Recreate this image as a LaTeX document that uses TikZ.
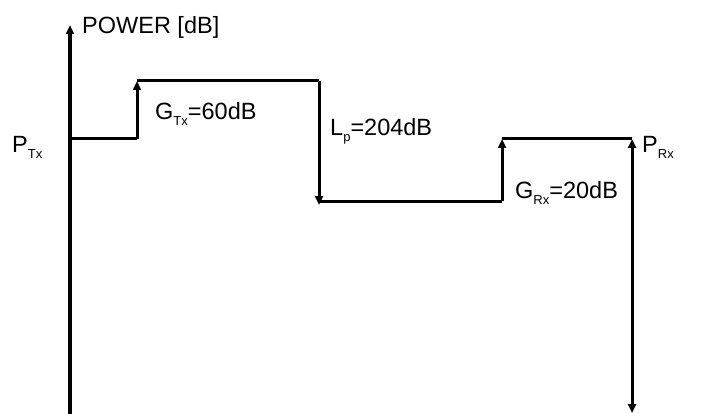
\documentclass[tikz,border=0pt]{standalone}
\usepackage{fontspec}
\setmainfont{Liberation Sans}
\usetikzlibrary{arrows.meta}
\newcommand{\lowsub}[1]{\raisebox{-6pt}{\fontsize{13}{13}\selectfont #1}}
\begin{document}
\begin{tikzpicture}[x=1pt,y=-1pt,
  wire/.style={line width=3pt,line cap=butt},
  tip/.style={-{Triangle[length=9pt,width=8pt]}},
  lbl/.style={inner sep=0pt,anchor=base west,font=\fontsize{23.5}{25}\selectfont}]
\useasboundingbox (0,0) rectangle (706,414);
% points
\coordinate (axb) at (70,416);
\coordinate (axt) at (70,25);
\coordinate (ptx) at (70,139);
\coordinate (s1b) at (137,139);
\coordinate (s1t) at (137,81);
\coordinate (s2t) at (319,81);
\coordinate (s2b) at (319,205);
\coordinate (s3a) at (319,201);
\coordinate (s3b) at (502,201);
\coordinate (s3t) at (502,139);
\coordinate (prx) at (632,139);
\coordinate (bot) at (632,413);
% axis
\draw[wire,line width=3.2pt,tip] (axb) -- (axt);
% power levels
\draw[wire] (ptx) -- (s1b);
\draw[wire,tip] (s1b) -- (s1t);
\draw[wire] (s1t) -- (s2t);
\draw[wire,tip] (s2t) -- (s2b);
\draw[wire] (s3a) -- (s3b);
\draw[wire,tip] (s3b) -- (s3t);
\draw[wire] (s3t) -- (prx);
\draw[wire,{Triangle[length=9pt,width=8pt]}-{Triangle[length=9pt,width=8pt]}] (prx) -- (bot);
% labels
\node[lbl,font=\fontsize{23.5}{25}\selectfont] (power) at (82,34) {POWER [dB]};
\node[lbl] (lptx) at (12,153) {P\lowsub{Tx}};
\node[lbl] (lgtx) at (155,120) {G\lowsub{Tx}=60dB};
\node[lbl] (llp) at (330,136) {L\lowsub{p}=204dB};
\node[lbl] (lgrx) at (515,198) {G\lowsub{Rx}=20dB};
\node[lbl] (lprx) at (642,153) {P\lowsub{Rx}};
\end{tikzpicture}
\end{document}
